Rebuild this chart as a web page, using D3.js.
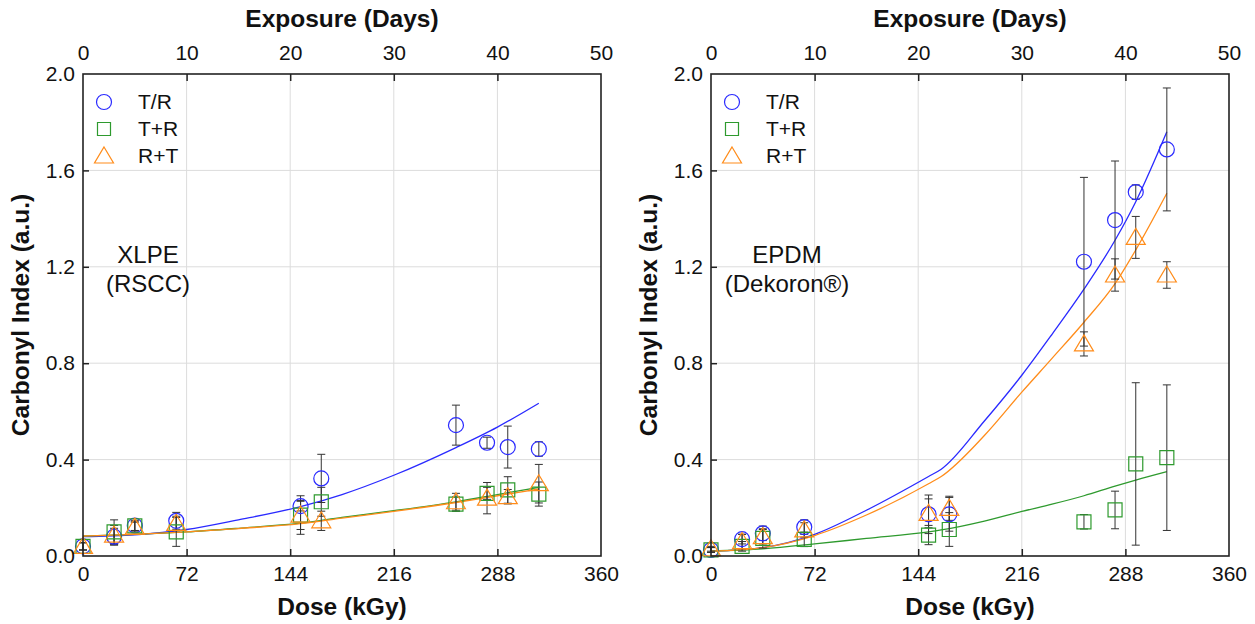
<!DOCTYPE html>
<html>
<head>
<meta charset="utf-8">
<script src="https://cdn.jsdelivr.net/npm/d3@7/dist/d3.min.js"></script>
<style>
  body { margin: 0; background: #fff; }
  text { font-family: "Liberation Sans", Arial, sans-serif; fill: #111; }
  .grid line { stroke: #dcdcdc; stroke-width: 1; }
  .err { stroke: #333; stroke-width: 1; }
</style>
</head>
<body>
<svg width="1255" height="624"></svg>
<script>
// ---- data ----
const doseKGy = [0, 21.6, 36, 64.8, 151.2, 165.6, 259.2, 280.8, 295.2, 316.8];
const seriesNames = ["T/R", "T+R", "R+T"];
const seriesColors = ["#2a2aff", "#2e9a2e", "#ff8c1a"];
const seriesShapes = ["circle", "square", "triangle"];
const doseTicks = [0, 72, 144, 216, 288, 360];
const dayTicks = [0, 10, 20, 30, 40, 50];
const ciTicks = [0, 0.4, 0.8, 1.2, 1.6, 2.0];

// XLPE (RSCC)
const xlpeTR = [0.04, 0.08, 0.126, 0.146, 0.207, 0.322, 0.543, 0.47, 0.452, 0.444];
const xlpeTRErr = [0.015, 0.035, 0.02, 0.035, 0.02, 0.1, 0.083, 0.023, 0.087, 0.03];
const xlpeTpR = [0.04, 0.10, 0.125, 0.10, 0.17, 0.225, 0.215, 0.26, 0.274, 0.257];
const xlpeTpRErr = [0.015, 0.05, 0.02, 0.06, 0.08, 0.06, 0.03, 0.025, 0.055, 0.05];
const xlpeRpT = [0.04, 0.087, 0.12, 0.135, 0.17, 0.146, 0.225, 0.24, 0.246, 0.30];
const xlpeRpTErr = [0.015, 0.04, 0.02, 0.03, 0.06, 0.04, 0.035, 0.065, 0.03, 0.08];
const xlpeFitDose = [0, 36, 72, 108, 151.2, 180, 216, 259.2, 288, 316.8];
const xlpeFitTR = [0.08, 0.088, 0.11, 0.15, 0.205, 0.255, 0.335, 0.45, 0.535, 0.634];
const xlpeFitTpR = [0.083, 0.09, 0.10, 0.115, 0.136, 0.16, 0.188, 0.225, 0.255, 0.285];
const xlpeFitRpT = [0.083, 0.09, 0.10, 0.114, 0.134, 0.157, 0.185, 0.222, 0.25, 0.278];

// EPDM (Dekoron)
const epdmTR = [0.025, 0.07, 0.094, 0.12, 0.173, 0.173, 1.221, 1.394, 1.51, 1.687];
const epdmTRErr = [0.01, 0.02, 0.03, 0.03, 0.08, 0.07, 0.35, 0.245, 0.03, 0.255];
const epdmTpR = [0.025, 0.04, 0.073, 0.069, 0.087, 0.11, 0.142, 0.191, 0.382, 0.408];
const epdmTpRErr = [0.01, 0.02, 0.04, 0.03, 0.04, 0.07, 0.03, 0.078, 0.337, 0.302];
const epdmRpT = [0.03, 0.06, 0.08, 0.108, 0.177, 0.198, 0.88, 1.166, 1.322, 1.166];
const epdmRpTErr = [0.01, 0.03, 0.03, 0.03, 0.06, 0.05, 0.05, 0.067, 0.087, 0.055];
const epdmFitDose = [0, 36, 72, 108, 151.2, 160, 190, 216, 237, 259.2, 280.8, 295.2, 316.8];
const epdmFitTR = [0.02, 0.035, 0.09, 0.19, 0.33, 0.36, 0.56, 0.75, 0.92, 1.107, 1.31, 1.47, 1.76];
const epdmFitTpR = [0.02, 0.03, 0.05, 0.073, 0.10, 0.108, 0.145, 0.185, 0.215, 0.25, 0.29, 0.315, 0.35];
const epdmFitRpT = [0.02, 0.035, 0.085, 0.17, 0.30, 0.33, 0.50, 0.68, 0.82, 0.97, 1.13, 1.27, 1.505];

const svg = d3.select("svg");
const plotTop = 74, plotBottom = 556;

function drawPanel(opt) {
    const g = svg.append("g");
    const x = d3.scaleLinear().domain([0, 360]).range([opt.x0, opt.x1]);
    const xDays = d3.scaleLinear().domain([0, 50]).range([opt.x0, opt.x1]);
    const y = d3.scaleLinear().domain([0, 2]).range([plotBottom, plotTop]);

    // grid
    const grid = g.append("g").attr("class", "grid");
    grid.selectAll("line.gx").data(doseTicks.slice(1, -1)).join("line")
        .attr("x1", d => x(d)).attr("x2", d => x(d))
        .attr("y1", plotTop).attr("y2", plotBottom);
    grid.selectAll("line.gy").data(ciTicks.slice(1, -1)).join("line")
        .attr("x1", opt.x0).attr("x2", opt.x1)
        .attr("y1", d => y(d)).attr("y2", d => y(d));

    // fit lines
    const line = d3.line().curve(d3.curveMonotoneX)
        .x(d => x(d[0])).y(d => y(d[1]));
    opt.fits.forEach((f, i) => {
        g.append("path")
            .attr("d", line(opt.fitDose.map((d, k) => [d, f[k]])))
            .attr("fill", "none")
            .attr("stroke", seriesColors[i])
            .attr("stroke-width", 1.3);
    });

    // error bars
    opt.series.forEach((s, i) => {
        const pts = doseKGy.map((d, k) => ({ d: d, v: s[k], e: opt.errs[i][k] }));
        const eb = g.append("g").attr("class", "err");
        eb.selectAll("line.v").data(pts).join("line")
            .attr("x1", p => x(p.d)).attr("x2", p => x(p.d))
            .attr("y1", p => y(p.v + p.e)).attr("y2", p => y(Math.max(0, p.v - p.e)));
        [1, -1].forEach(sg => {
            eb.append("g").selectAll("line").data(pts).join("line")
                .attr("x1", p => x(p.d) - 4).attr("x2", p => x(p.d) + 4)
                .attr("y1", p => y(Math.max(0, p.v + sg * p.e)))
                .attr("y2", p => y(Math.max(0, p.v + sg * p.e)));
        });
    });

    // markers
    opt.series.forEach((s, i) => {
        g.append("g").selectAll("path").data(doseKGy.map((d, k) => [d, s[k]])).join("path")
            .attr("d", marker(seriesShapes[i]))
            .attr("transform", p => `translate(${x(p[0])},${y(p[1])})`)
            .attr("fill", "none")
            .attr("stroke", seriesColors[i])
            .attr("stroke-width", 1.2);
    });

    // frame
    g.append("rect")
        .attr("x", opt.x0).attr("y", plotTop)
        .attr("width", opt.x1 - opt.x0).attr("height", plotBottom - plotTop)
        .attr("fill", "none").attr("stroke", "#222").attr("stroke-width", 1.6);

    // axes
    const fontSize = "21px";
    const ax = g.append("g").attr("transform", `translate(0,${plotBottom})`)
        .call(d3.axisBottom(x).tickValues(doseTicks).tickSize(-7).tickPadding(10).tickSizeOuter(0));
    const axT = g.append("g").attr("transform", `translate(0,${plotTop})`)
        .call(d3.axisTop(xDays).tickValues(dayTicks).tickSize(-7).tickPadding(14).tickSizeOuter(0));
    const axL = g.append("g").attr("transform", `translate(${opt.x0},0)`)
        .call(d3.axisLeft(y).tickValues(ciTicks).tickFormat(d3.format(".1f")).tickSize(-6).tickPadding(8).tickSizeOuter(0));
    [ax, axT, axL].forEach(a => {
        a.select(".domain").remove();
        a.selectAll(".tick line").attr("stroke", "#222").attr("stroke-width", 1.5);
        a.selectAll("text").attr("font-size", fontSize).attr("fill", "#111")
            .attr("font-family", "Liberation Sans, Arial, sans-serif");
    });
    ax.selectAll(".tick").filter(d => d === 0 || d === 360).select("line").remove();
    axT.selectAll(".tick").filter(d => d === 0 || d === 50).select("line").remove();
    axL.selectAll(".tick").filter(d => d === 0 || d === 2).select("line").remove();

    // titles
    const cx = (opt.x0 + opt.x1) / 2;
    g.append("text").attr("x", cx).attr("y", 27).attr("text-anchor", "middle")
        .attr("font-size", "24.5px").attr("font-weight", "bold").text("Exposure (Days)");
    g.append("text").attr("x", cx).attr("y", 615).attr("text-anchor", "middle")
        .attr("font-size", "24.5px").attr("font-weight", "bold").text("Dose (kGy)");
    g.append("text")
        .attr("transform", `translate(${opt.x0 - 54},${(plotTop + plotBottom) / 2}) rotate(-90)`)
        .attr("text-anchor", "middle")
        .attr("font-size", "24.5px").attr("font-weight", "bold").text("Carbonyl Index (a.u.)");

    // legend
    seriesNames.forEach((n, i) => {
        const ly = [102, 129, 156][i];
        g.append("path").attr("d", marker(seriesShapes[i], true))
            .attr("transform", `translate(${opt.x0 + 21},${ly})`)
            .attr("fill", "none").attr("stroke", seriesColors[i]).attr("stroke-width", 1.2);
        g.append("text").attr("x", opt.x0 + 55).attr("y", ly + 7)
            .attr("font-size", "21px").text(n);
    });

    // material label
    opt.label.forEach((t, i) => {
        g.append("text").attr("x", opt.labelX).attr("y", [263, 292][i])
            .attr("text-anchor", "middle").attr("font-size", "24px").text(t);
    });
}

function marker(shape, legend) {
    if (shape === "circle") return d3.symbol(d3.symbolCircle, Math.PI * 7.5 * 7.5)();
    if (shape === "square") {
        const h = legend ? 6.5 : 7;
        return `M${-h},${-h}H${h}V${h}H${-h}Z`;
    }
    return `M0,-9L9.5,7L-9.5,7Z`;
}

drawPanel({
    x0: 83, x1: 601,
    series: [xlpeTR, xlpeTpR, xlpeRpT],
    errs: [xlpeTRErr, xlpeTpRErr, xlpeRpTErr],
    fitDose: xlpeFitDose,
    fits: [xlpeFitTR, xlpeFitTpR, xlpeFitRpT],
    label: ["XLPE", "(RSCC)"], labelX: 148
});
drawPanel({
    x0: 711, x1: 1229,
    series: [epdmTR, epdmTpR, epdmRpT],
    errs: [epdmTRErr, epdmTpRErr, epdmRpTErr],
    fitDose: epdmFitDose,
    fits: [epdmFitTR, epdmFitTpR, epdmFitRpT],
    label: ["EPDM", "(Dekoron®)"], labelX: 787
});
</script>
</body>
</html>
